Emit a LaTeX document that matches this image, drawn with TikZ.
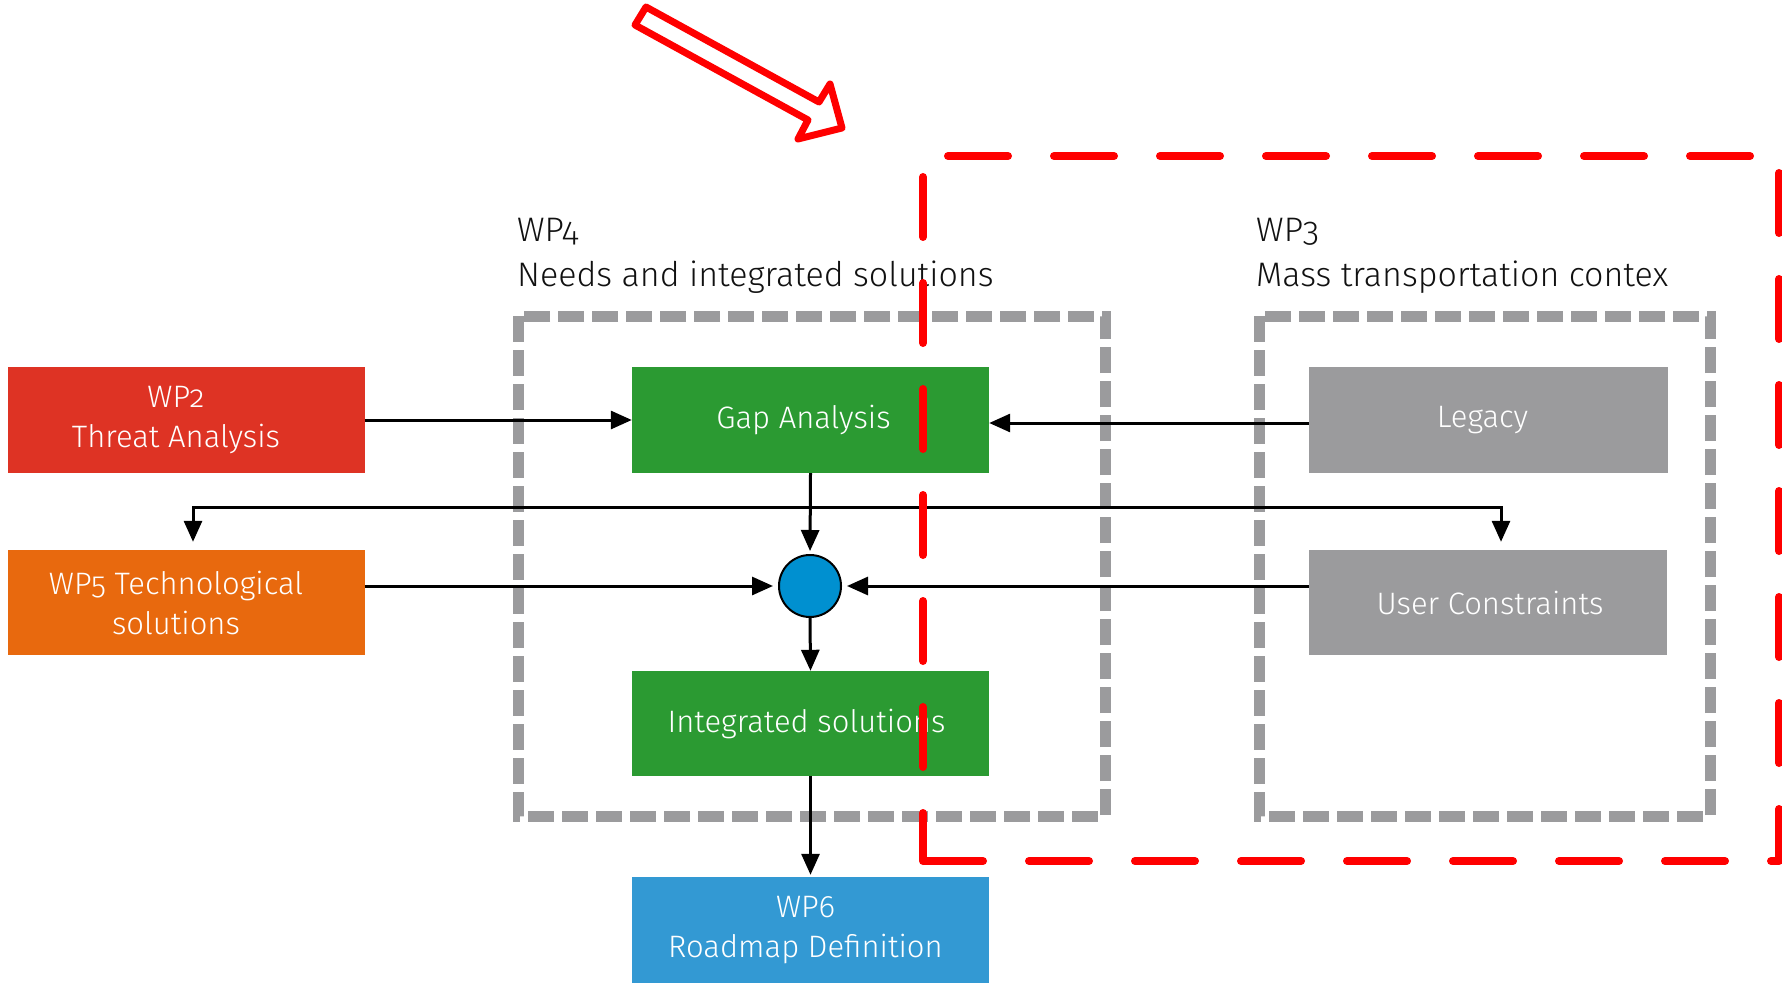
\documentclass[tikz,border=0pt]{standalone}
\usepackage{fontspec}
\setmainfont{Fira Sans Light}[Numbers=OldStyle]
\usetikzlibrary{arrows.meta}
\definecolor{wpred}{HTML}{DE3324}
\definecolor{wporange}{HTML}{E8690E}
\definecolor{wpgreen}{HTML}{2B9A32}
\definecolor{wpblue}{HTML}{3399D3}
\definecolor{wpgray}{HTML}{9B9B9D}
\definecolor{circblue}{HTML}{0090D0}
\definecolor{hired}{HTML}{FF0000}
\definecolor{hdrtext}{HTML}{111111}
\begin{document}
\begin{tikzpicture}[x=1pt,y=-1pt,
  box/.style={draw=none, minimum width=357pt, minimum height=106pt, inner sep=0pt},
  boxtext/.style={inner sep=0pt, text=white, font=\fontsize{31}{40}\selectfont, align=center},
  hdr/.style={inner sep=0pt, text=hdrtext, font=\fontsize{34}{42}\selectfont, anchor=base west},
  arr/.style={line width=3pt, -{Triangle[length=21pt,width=18pt]}},
  gdash/.style={draw=wpgray, line width=11pt, dash pattern=on 26pt off 8pt},
  rdash/.style={draw=hired, line width=8pt, line cap=round, line join=round, dash pattern=on 60pt off 46pt},
]
\useasboundingbox (0,0) rectangle (1782,984);

% group frames
\draw[gdash] (518,316) rectangle (1105,816);
\draw[gdash] (1259,316) rectangle (1710,816);

% headers
\node[hdr] (wp4t) at (517,242) {WP4};
\node[hdr] (wp4s) at (517,287) {Needs and integrated solutions};
\node[hdr] (wp3t) at (1256,242) {WP3};
\node[hdr] (wp3s) at (1256,287) {Mass transportation contex};

% boxes
\node[box, fill=wpred] (wp2) at (186,420) {};
\node[box, fill=wporange, minimum height=105pt] (wp5) at (186,602.5) {};
\node[box, fill=wpgreen] (gap) at (810.5,420) {};
\node[box, fill=wpgreen, minimum height=105pt] (integ) at (810.5,723.5) {};
\node[box, fill=wpblue] (wp6) at (810.5,930) {};
\node[box, fill=wpgray, minimum width=359pt] (legacy) at (1488.5,420) {};
\node[box, fill=wpgray, minimum width=358pt, minimum height=105pt] (uc) at (1488,602.5) {};
\node[circle, fill=circblue, draw=black, line width=2pt, minimum size=62pt, inner sep=0pt] (circ) at (810,586) {};

% box texts
\node[boxtext] (wp2txt) at ([xshift=-10pt]wp2.center) {WP2\\Threat Analysis};
\node[boxtext] (wp5txt) at ([xshift=-10pt]wp5.center) {WP5 Technological\\solutions};
\node[boxtext] (gaptxt) at ([xshift=-7pt]gap.center) {Gap Analysis};
\node[boxtext] (integtxt) at ([xshift=-4pt]integ.center) {Integrated solutions};
\node[boxtext] (wp6txt) at ([xshift=-5pt]wp6.center) {WP6\\Roadmap Definition};
\node[boxtext] (legacytxt) at ([xshift=-6pt]legacy.center) {Legacy};
\node[boxtext] (uctxt) at ([xshift=2pt]uc.center) {User Constraints};

% connectors
\draw[arr] (wp2.east) -- (gap.west);
\draw[arr] ([yshift=-3pt]legacy.west) -- ([yshift=-3pt]gap.east);
\coordinate (split) at (810,507);
\draw[arr, shorten >=3pt] (gap.south) -- (circ.north);
\draw[arr, shorten >=8pt] (split) -| ([xshift=7pt]wp5.north);
\draw[arr, shorten >=8pt] (split) -| ([xshift=13pt]uc.north);
\draw[arr, shorten >=5pt] (wp5.east |- circ.west) -- (circ.west);
\draw[arr, shorten >=5pt] (uc.west |- circ.east) -- (circ.east);
\draw[arr] (circ.south) -- (integ.north);
\draw[arr, shorten >=2pt] (integ.south) -- (wp6.north);

% red highlight frame
\draw[rdash] (923,861) -- (1779,861) -- (1779,156) -- (923,156) -- cycle;

% red outline arrow
\draw[hired, line width=7pt, line join=round] (646,7) -- (819,102) -- (830,84) -- (842,128) -- (798,139) -- (808,120) -- (635,25) -- cycle;
\end{tikzpicture}
\end{document}
